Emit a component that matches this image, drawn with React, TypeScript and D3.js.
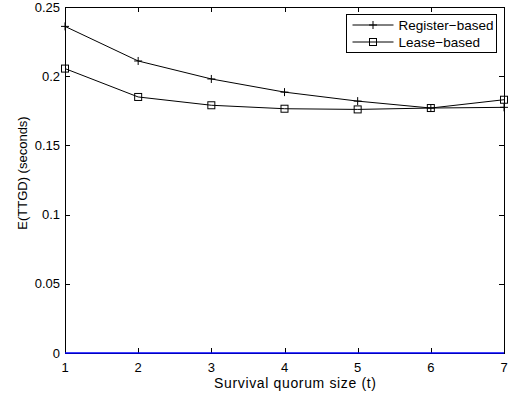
import React, { useRef, useEffect } from 'react';
import * as d3 from 'd3';

// quorum sizes and measured expectations
const quorumSizes = [1, 2, 3, 4, 5, 6, 7];
const registerBased = [0.236, 0.211, 0.198, 0.1885, 0.182, 0.177, 0.1775];
const leaseBased = [0.2055, 0.185, 0.179, 0.1765, 0.176, 0.177, 0.183];
const baseline = [0, 0, 0, 0, 0, 0, 0];
const yTicks = [0, 0.05, 0.1, 0.15, 0.2, 0.25];

export default function App() {
  const ref = useRef<SVGSVGElement>(null);
  const width = 515;
  const height = 394;

  useEffect(() => {
    const svg = d3.select(ref.current);
    svg.selectAll('*').remove();

    const margin = { top: 7, right: 11, bottom: 41, left: 65 };
    const w = width - margin.left - margin.right;
    const h = height - margin.top - margin.bottom;
    const font = 'Liberation Sans, Arial, sans-serif';

    const x = d3.scaleLinear().domain([1, 7]).range([0, w]);
    const y = d3.scaleLinear().domain([0, 0.25]).range([h, 0]);

    const g = svg.append('g').attr('transform', `translate(${margin.left},${margin.top})`);

    g.append('rect')
      .attr('width', w).attr('height', h)
      .attr('fill', 'white');

    const tick = 5;
    // inward ticks on all four sides
    const axes = g.append('g').attr('stroke', 'black').attr('stroke-width', 1);
    quorumSizes.forEach(t => {
      const px = Math.round(x(t)) + 0.5;
      axes.append('line').attr('x1', px).attr('x2', px).attr('y1', h).attr('y2', h - tick);
      axes.append('line').attr('x1', px).attr('x2', px).attr('y1', 0).attr('y2', tick);
    });
    yTicks.forEach(v => {
      const py = Math.round(y(v)) + 0.5;
      axes.append('line').attr('x1', 0).attr('x2', tick).attr('y1', py).attr('y2', py);
      axes.append('line').attr('x1', w).attr('x2', w - tick).attr('y1', py).attr('y2', py);
    });
    g.append('rect')
      .attr('x', 0.5).attr('y', 0.5)
      .attr('width', w).attr('height', h)
      .attr('fill', 'none').attr('stroke', 'black');

    // tick labels
    g.selectAll('.xl')
      .data(quorumSizes)
      .enter()
      .append('text')
        .attr('x', d => x(d))
        .attr('y', h + 18.5)
        .attr('text-anchor', 'middle')
        .attr('font-family', font)
        .attr('font-size', 13)
        .text(d => d);

    g.selectAll('.yl')
      .data(yTicks)
      .enter()
      .append('text')
        .attr('x', -5)
        .attr('y', d => y(d))
        .attr('dy', '0.35em')
        .attr('text-anchor', 'end')
        .attr('font-family', font)
        .attr('font-size', 13)
        .text(d => String(d));

    // axis titles
    svg.append('text')
      .attr('x', 214)
      .attr('y', 387.5)
      .attr('font-family', font)
      .attr('font-size', 14)
      .attr('textLength', 162)
      .attr('lengthAdjust', 'spacing')
      .text('Survival quorum size (t)');

    svg.append('text')
      .attr('transform', `translate(26.5,173) rotate(-90)`)
      .attr('text-anchor', 'middle')
      .attr('font-family', font)
      .attr('font-size', 13)
      .text('E(TTGD) (seconds)');

    const line = d3.line<number>()
      .x((_, i) => x(quorumSizes[i]))
      .y(d => y(d));

    // zero baseline
    g.append('path')
      .attr('d', line(baseline))
      .attr('fill', 'none')
      .attr('stroke', '#0000ff')
      .attr('stroke-width', 1.5);

    g.append('path')
      .attr('d', line(registerBased))
      .attr('fill', 'none')
      .attr('stroke', 'black');

    g.append('path')
      .attr('d', line(leaseBased))
      .attr('fill', 'none')
      .attr('stroke', 'black');

    const plus = (sel: any, cx: number, cy: number) => {
      sel.append('path')
        .attr('d', `M${cx - 4},${cy}H${cx + 4}M${cx},${cy - 4}V${cy + 4}`)
        .attr('stroke', 'black')
        .attr('fill', 'none');
    };
    const square = (sel: any, cx: number, cy: number) => {
      sel.append('rect')
        .attr('x', cx - 3.5).attr('y', cy - 3.5)
        .attr('width', 7).attr('height', 7)
        .attr('stroke', 'black')
        .attr('fill', 'none');
    };

    registerBased.forEach((v, i) => plus(g, x(quorumSizes[i]), y(v)));
    leaseBased.forEach((v, i) => square(g, x(quorumSizes[i]), y(v)));

    // legend
    const lg = svg.append('g').attr('transform', 'translate(346.5,14.5)');
    lg.append('rect')
      .attr('width', 150).attr('height', 38)
      .attr('fill', 'white').attr('stroke', 'black');
    const rows = [
      { label: 'Register-based', y: 10.5, mark: plus },
      { label: 'Lease-based', y: 27.5, mark: square }
    ];
    rows.forEach(r => {
      lg.append('line')
        .attr('x1', 6).attr('x2', 47)
        .attr('y1', r.y).attr('y2', r.y)
        .attr('stroke', 'black');
      r.mark(lg, 26.5, r.y);
      lg.append('text')
        .attr('x', 52)
        .attr('y', r.y)
        .attr('dy', '0.35em')
        .attr('font-family', font)
        .attr('font-size', 13.5)
        .text(r.label.replace('-', '\u2212'));
    });
  }, []);

  return (
    <svg
      ref={ref}
      width={width}
      height={height}
      style={{ position: 'absolute', left: 0, top: 0, display: 'block', background: 'white' }}
    />
  );
}
